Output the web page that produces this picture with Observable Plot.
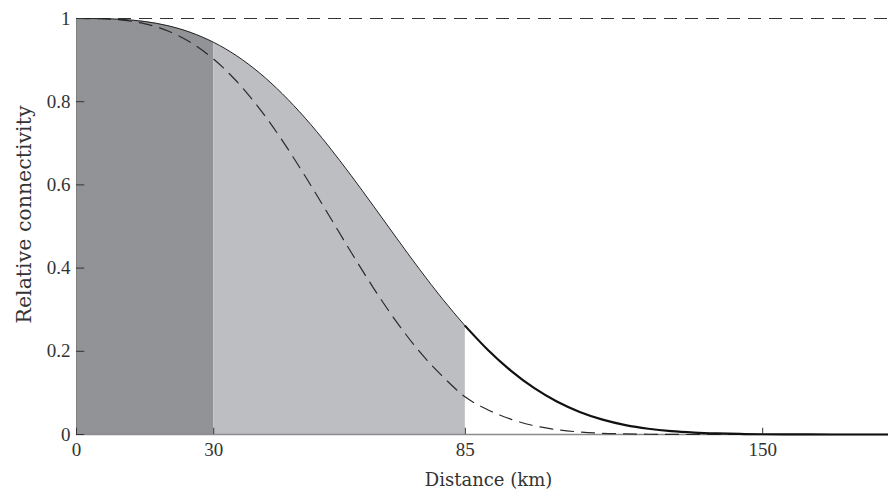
<!DOCTYPE html>
<html><head><meta charset="utf-8">
<script src="https://cdn.jsdelivr.net/npm/d3@7"></script>
<script src="https://cdn.jsdelivr.net/npm/@observablehq/plot@0.6"></script>
<style>html,body{margin:0;padding:0;background:#fff}</style>
</head><body><div id="chart"></div>
<script>
// Distance (km)
const distance = [0,5,10,15,20,25,30,35,40,45,50,55,60,65,70,75,80,85,90,95,100,105,110,115,120,125,130,135,140,145,150,155,160,165,170,177.5];
// Solid curve (relative connectivity)
const connectivity = [1,0.9997,0.9978,0.9926,0.9826,0.9663,0.9426,0.9104,0.8692,0.8190,0.7605,0.6946,0.6230,0.5480,0.4718,0.3969,0.3258,0.2605,0.2025,0.1529,0.1119,0.0792,0.0542,0.0357,0.0227,0.0139,0.0081,0.0046,0.0025,0.0013,0.0006,0.0003,0.0001,0,0,0];
// Dashed curve
const connectivityDashed = [1,0.9995,0.9962,0.9872,0.9699,0.9421,0.9021,0.8491,0.7834,0.7064,0.6207,0.5301,0.4387,0.3508,0.2702,0.1990,0.1400,0.0900,0.0590,0.0365,0.0212,0.0117,0.0060,0.0029,0.0014,0.0006,0.0002,0,0,0,0,0,0,0,0,0];
const referenceLevel = [1];
const xTicks = [0,30,85,150];
const yTicks = [0,0.2,0.4,0.6,0.8,1];
const yTickLabels = ["0","0.2","0.4","0.6","0.8","1"];
const shadeBreaks = [0,30,85];
const xLabel = "Distance (km)";
const yLabel = "Relative connectivity";

const data = distance.map((d,i)=>({d, solid: connectivity[i], dashed: connectivityDashed[i]}));
const inner = data.filter(r => r.d <= shadeBreaks[1]);
const middle = data.filter(r => r.d >= shadeBreaks[1] && r.d <= shadeBreaks[2]);
const before = data.filter(r => r.d <= shadeBreaks[2]);
const after = data.filter(r => r.d >= shadeBreaks[2]);

const tickFont = "'Liberation Serif', serif";
const labelFont = "'DejaVu Serif', serif";

const chart = Plot.plot({
  width: 888,
  height: 489,
  marginLeft: 76,
  marginRight: 0,
  marginTop: 18,
  marginBottom: 55,
  style: {background: "#fff", color: "#333", fontFamily: tickFont},
  x: {domain: [0, 177.5]},
  y: {domain: [0, 1]},
  marks: [
    Plot.areaY(inner, {x: "d", y: "solid", fill: "#929397", curve: "monotone-x"}),
    Plot.areaY(middle, {x: "d", y: "solid", fill: "#bdbec2", curve: "monotone-x"}),
    Plot.ruleY([0], {stroke: "#8c8c8c", strokeWidth: 1.5}),
    Plot.ruleX([0], {stroke: "#808080", strokeWidth: 1}),
    Plot.ruleY(referenceLevel, {stroke: "#333", strokeWidth: 1.2, strokeDasharray: "13,8"}),
    Plot.line(data, {x: "d", y: "dashed", stroke: "#2a2a2a", strokeWidth: 1.2, strokeDasharray: "13,8", curve: "monotone-x"}),
    Plot.line(before, {x: "d", y: "solid", stroke: "#222", strokeWidth: 1, curve: "monotone-x"}),
    Plot.line(after, {x: "d", y: "solid", stroke: "#111", strokeWidth: 2.2, curve: "monotone-x"}),
    Plot.ruleY(yTicks, {x1: 0, x2: 1.8, stroke: "#333", strokeWidth: 1}),
    Plot.ruleX(xTicks, {y1: 0, y2: 0.015, stroke: "#333", strokeWidth: 1}),
    Plot.axisY({ticks: yTicks, tickFormat: (d) => yTickLabels[yTicks.indexOf(d)], tickSize: 0, tickPadding: 6, fontSize: 19, label: null, fill: "#333"}),
    Plot.axisX({ticks: xTicks, tickFormat: d => String(d), tickSize: 0, tickPadding: 8, fontSize: 19, label: null, fill: "#333"}),
    Plot.text([xLabel], {text: d => d, frameAnchor: "bottom", dy: 51, dx: 6, lineAnchor: "bottom", textAnchor: "middle", fontSize: 18, fontFamily: labelFont, fill: "#333"}),
    Plot.text([yLabel], {text: d => d, frameAnchor: "left", rotate: -90, dx: -46, dy: -12, lineAnchor: "bottom", textAnchor: "middle", fontSize: 20.5, fontFamily: labelFont, fill: "#333"})
  ]
});
document.getElementById("chart").appendChild(chart);
</script>
</body></html>
